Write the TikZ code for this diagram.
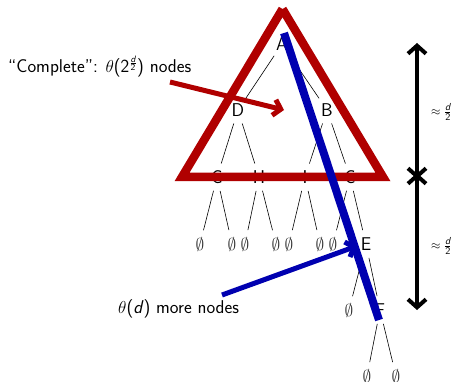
\documentclass[tikz,border=0pt]{standalone}
\usepackage{amsmath}
\usepackage{fontspec}
\usetikzlibrary{arrows.meta}
\definecolor{myred}{RGB}{176,0,0}
\definecolor{myblue}{RGB}{0,0,176}
\newcommand{\sd}{\textsf{\itshape d}}
\newcommand{\emp}{$\emptyset$}
\newcommand{\halfd}{{\fontsize{12}{14}\selectfont$\approx$}\hspace{3.5pt}{\fontsize{14.5}{17}\selectfont$\frac{\sd}{\textsf{2}}$}}
\begin{document}
\begin{tikzpicture}[x=1pt,y=-1pt,
  base/.style={font={\fontsize{18.5}{22}\selectfont\sffamily}},
  tn/.style={base, circle, minimum size=28pt, inner sep=0pt},
  en/.style={tn, text=black!80},
  te/.style={line width=0.6pt},
  half/.style={font=\sffamily, inner sep=0pt},
  dbl/.style={line width=4pt, {Straight Barb[length=8pt,width=18pt]}-{Straight Barb[length=8pt,width=18pt]}},
  callout/.style={line width=5pt, -{Straight Barb[length=7pt,width=16pt]}},
]
\useasboundingbox (0,0) rectangle (452,382);
% tree nodes
\node[tn] (A) at (282,44) {A};
\node[tn] (D) at (238,110) {D};
\node[tn] (B) at (327,110) {B};
\node[tn] (G) at (217,177) {G};
\node[tn] (H) at (259,177) {H};
\node[tn] (I) at (305,177) {I};
\node[tn] (C) at (350,177) {C};
\node[en] (g1) at (200,244) {\emp};
\node[en] (g2) at (232,244) {\emp};
\node[en] (h1) at (245,244) {\emp};
\node[en] (h2) at (276,244) {\emp};
\node[en] (i1) at (289,244) {\emp};
\node[en] (i2) at (320,244) {\emp};
\node[en] (c1) at (333,244) {\emp};
\node[tn] (E) at (366,244) {E};
\node[en] (e1) at (349,310) {\emp};
\node[tn] (F) at (380,310) {F};
\node[en] (f1) at (367,376) {\emp};
\node[en] (f2) at (396,376) {\emp};
% tree edges
\draw[te] (A) -- (D);
\draw[te] (A) -- (B);
\draw[te] (D) -- (G);
\draw[te] (D) -- (H);
\draw[te] (B) -- (I);
\draw[te] (B) -- (C);
\draw[te] (G) -- (g1);
\draw[te] (G) -- (g2);
\draw[te] (H) -- (h1);
\draw[te] (H) -- (h2);
\draw[te] (I) -- (i1);
\draw[te] (I) -- (i2);
\draw[te] (C) -- (c1);
\draw[te] (C) -- (E);
\draw[te] (E) -- (e1);
\draw[te] (E) -- (F);
\draw[te] (F) -- (f1);
\draw[te] (F) -- (f2);
% red triangle
\coordinate (tA) at (282.5,9);
\coordinate (tL) at (182,177);
\coordinate (tR) at (383,177);
\draw[myred, line width=8.5pt, line join=miter] (tA) -- (tR) -- (tL) -- (tA);
% blue path line
\coordinate (b1) at (284,33);
\coordinate (b2) at (379,320);
\draw[myblue, line width=8pt] (b1) -- (b2);
% labels and callouts
\node[base, anchor=base west, inner sep=0pt] (lc) at (8,73)
  {``Complete'': $\theta$(2$^{\frac{\sd}{\textsf{2}}}$) nodes};
\coordinate (ra1) at (170,82);
\coordinate (ra2) at (284,110);
\draw[myred, callout] (ra1) -- (ra2);
\node[base, anchor=base west, inner sep=0pt] (lm) at (118,313)
  {$\theta$(\textit{d}) more nodes};
\coordinate (ba1) at (222,295);
\coordinate (ba2) at (357,246);
\draw[myblue, callout] (ba1) -- (ba2);
% depth arrows
\coordinate (d1) at (417,43);
\coordinate (d2) at (417,179);
\coordinate (d3) at (417,173);
\coordinate (d4) at (417,310);
\draw[dbl] (d1) -- (d2);
\draw[dbl] (d3) -- (d4);
\node[half, anchor=west] (h1l) at (431,112) {\halfd};
\node[half, anchor=west] (h2l) at (431,246) {\halfd};
\end{tikzpicture}
\end{document}
